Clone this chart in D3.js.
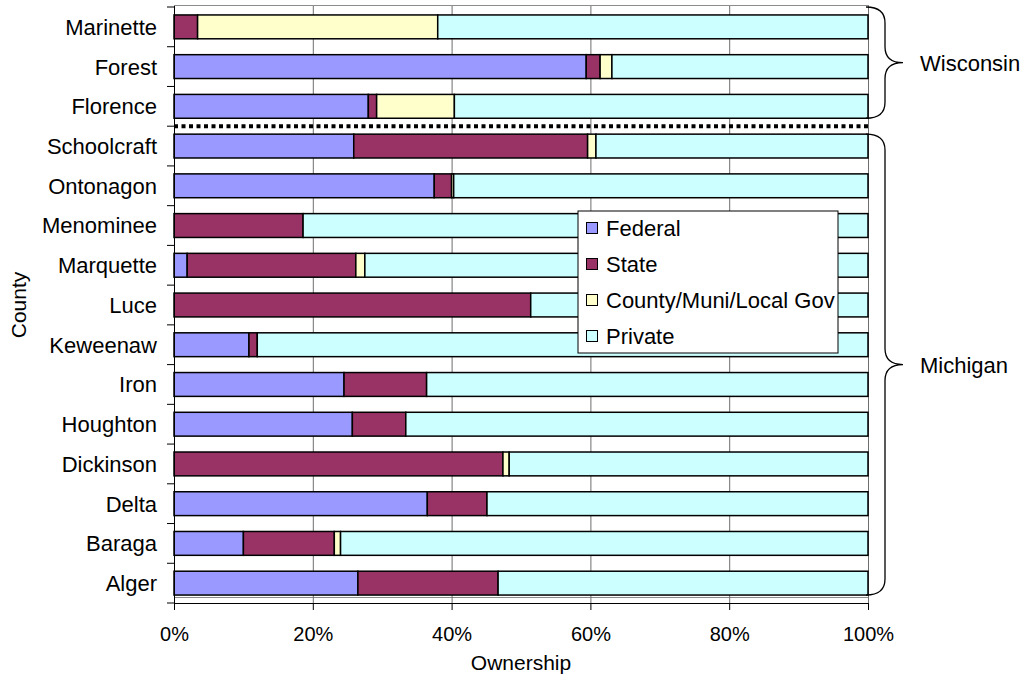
<!DOCTYPE html>
<html>
<head>
<meta charset="utf-8">
<script src="https://cdn.jsdelivr.net/npm/d3@7"></script>
<style>
  html, body { margin: 0; padding: 0; background: #fff; }
  svg { display: block; font-family: "Liberation Sans", Arial, sans-serif; }
</style>
</head>
<body>
<svg id="chart" width="1029" height="679"></svg>
<script>
// Land ownership share (%) by county
const counties = ["Marinette","Forest","Florence","Schoolcraft","Ontonagon","Menominee","Marquette","Luce","Keweenaw","Iron","Houghton","Dickinson","Delta","Baraga","Alger"];
const federal = [0, 59.4, 28.0, 25.9, 37.5, 0, 1.9, 0, 10.8, 24.5, 25.7, 0, 36.5, 10.0, 26.5];
const state   = [3.4, 2.0, 1.2, 33.7, 2.5, 18.6, 24.3, 51.4, 1.2, 11.9, 7.7, 47.4, 8.6, 13.1, 20.2];
const local   = [34.6, 1.7, 11.2, 1.2, 0.3, 0, 1.3, 0, 0, 0, 0, 0.9, 0, 0.9, 0];
const privateLand = [62.0, 36.9, 59.6, 39.2, 59.7, 81.4, 72.5, 48.6, 88.0, 63.6, 66.6, 51.7, 54.9, 76.0, 53.3];
const seriesNames = ["Federal", "State", "County/Muni/Local Gov", "Private"];
const seriesColors = ["#9999FF", "#993366", "#FFFFCC", "#CCFFFF"];
const xTicks = [0, 20, 40, 60, 80, 100];
const groups = [
  { name: "Wisconsin", first: "Marinette", last: "Florence", fromPlotTop: true },
  { name: "Michigan", first: "Schoolcraft", last: "Alger", fromPlotTop: false }
];

const svg = d3.select("#chart");
const plotLeft = 174, plotRight = 868, plotTop = 7, plotBottom = 603;

const x = d3.scaleLinear().domain([0, 100]).range([plotLeft, plotRight]);
const y = d3.scaleBand().domain(counties).range([plotTop, plotBottom]).paddingInner(0.4).paddingOuter(0.2);
const color = d3.scaleOrdinal().domain(seriesNames).range(seriesColors);

const rows = counties.map((c, i) => ({
  county: c,
  "Federal": federal[i],
  "State": state[i],
  "County/Muni/Local Gov": local[i],
  "Private": privateLand[i]
}));
const stacked = d3.stack().keys(seriesNames)(rows);

// plot frame and vertical gridlines
svg.append("rect")
  .attr("x", plotLeft + 0.5).attr("y", plotTop - 1.5)
  .attr("width", plotRight - plotLeft).attr("height", plotBottom - 5 - (plotTop - 1))
  .attr("fill", "none").attr("stroke", "#8c8c8c").attr("stroke-width", 1);
svg.append("g").selectAll("line")
  .data(xTicks.slice(1))
  .join("line")
  .attr("x1", d => x(d) + 0.5).attr("x2", d => x(d) + 0.5)
  .attr("y1", plotTop - 1).attr("y2", plotBottom)
  .attr("stroke", "#6e6e6e").attr("stroke-width", 1);

// stacked bars
svg.append("g").selectAll("g")
  .data(stacked)
  .join("g")
  .attr("fill", d => color(d.key))
  .selectAll("rect")
  .data(d => d.filter(s => s[1] - s[0] > 0))
  .join("rect")
  .attr("x", s => x(s[0]))
  .attr("y", s => y(s.data.county))
  .attr("width", s => x(s[1]) - x(s[0]))
  .attr("height", y.bandwidth())
  .attr("stroke", "#000")
  .attr("stroke-width", 1.5);

// dotted separator between the two states
const sepY = (y("Florence") + y.bandwidth() + y("Schoolcraft")) / 2;
svg.append("line")
  .attr("x1", plotLeft).attr("x2", plotRight)
  .attr("y1", sepY).attr("y2", sepY)
  .attr("stroke", "#000").attr("stroke-width", 4)
  .attr("stroke-dasharray", "4,3.5");

// x axis
const xAxis = svg.append("g")
  .attr("transform", `translate(0,${plotBottom})`)
  .call(d3.axisBottom(x).tickValues(xTicks).tickFormat(d => d + "%").tickSize(7).tickSizeOuter(0));
xAxis.select(".domain").attr("stroke", "#000");
xAxis.selectAll(".tick line").attr("stroke", "#000");
xAxis.selectAll(".tick text")
  .attr("font-size", 20).attr("font-family", "Liberation Sans, Arial, sans-serif")
  .attr("fill", "#000").attr("dy", "1.42em");

// y axis line with ticks on category boundaries
svg.append("line")
  .attr("x1", plotLeft + 0.5).attr("x2", plotLeft + 0.5)
  .attr("y1", plotTop - 1).attr("y2", plotBottom + 7)
  .attr("stroke", "#000");
const boundaries = d3.range(counties.length + 1).map(i => plotTop + i * y.step());
svg.append("g").selectAll("line")
  .data(boundaries)
  .join("line")
  .attr("x1", plotLeft - 7).attr("x2", plotLeft)
  .attr("y1", d => d).attr("y2", d => d)
  .attr("stroke", "#000");

// category labels
svg.append("g").selectAll("text")
  .data(counties)
  .join("text")
  .attr("x", 157)
  .attr("y", d => y(d) + y.bandwidth() / 2)
  .attr("dy", "0.36em")
  .attr("text-anchor", "end")
  .attr("font-size", 22)
  .text(d => d);

// axis titles
svg.append("text")
  .attr("x", (plotLeft + plotRight) / 2).attr("y", 670)
  .attr("text-anchor", "middle").attr("font-size", 21)
  .text("Ownership");
svg.append("text")
  .attr("transform", `translate(26,${(plotTop + plotBottom) / 2}) rotate(-90)`)
  .attr("text-anchor", "middle").attr("font-size", 21)
  .text("County");

// legend
const legend = svg.append("g").attr("transform", "translate(578,211)");
legend.append("rect")
  .attr("x", 0).attr("y", 0).attr("width", 260).attr("height", 142)
  .attr("fill", "#fff").attr("stroke", "#000").attr("stroke-width", 1);
const item = legend.selectAll("g.item")
  .data(seriesNames)
  .join("g")
  .attr("class", "item")
  .attr("transform", (d, i) => `translate(0,${17 + i * 36})`);
item.append("rect")
  .attr("x", 8.5).attr("y", -5.5).attr("width", 11).attr("height", 11)
  .attr("fill", d => color(d)).attr("stroke", "#000").attr("stroke-width", 1);
item.append("text")
  .attr("x", 28).attr("y", 0).attr("dy", "0.36em")
  .attr("font-size", 22)
  .text(d => d);

// braces marking each state's counties
function bracePath(y0, y1) {
  const xa = 866, xb = 885, xt = 903, r = 16;
  const ym = (y0 + y1) / 2;
  return `M${xa},${y0} Q${xb},${y0} ${xb},${y0 + r} L${xb},${ym - r} Q${xb},${ym} ${xt},${ym}` +
         ` Q${xb},${ym} ${xb},${ym + r} L${xb},${y1 - r} Q${xb},${y1} ${xa},${y1}`;
}
groups.forEach(g => {
  const y0 = g.fromPlotTop ? plotTop : y(g.first);
  const y1 = y(g.last) + y.bandwidth();
  svg.append("path")
    .attr("d", bracePath(y0, y1))
    .attr("fill", "none").attr("stroke", "#000").attr("stroke-width", 1.3);
  svg.append("text")
    .attr("x", 920).attr("y", (y0 + y1) / 2).attr("dy", "0.36em")
    .attr("font-size", 22)
    .text(g.name);
});
</script>
</body>
</html>
